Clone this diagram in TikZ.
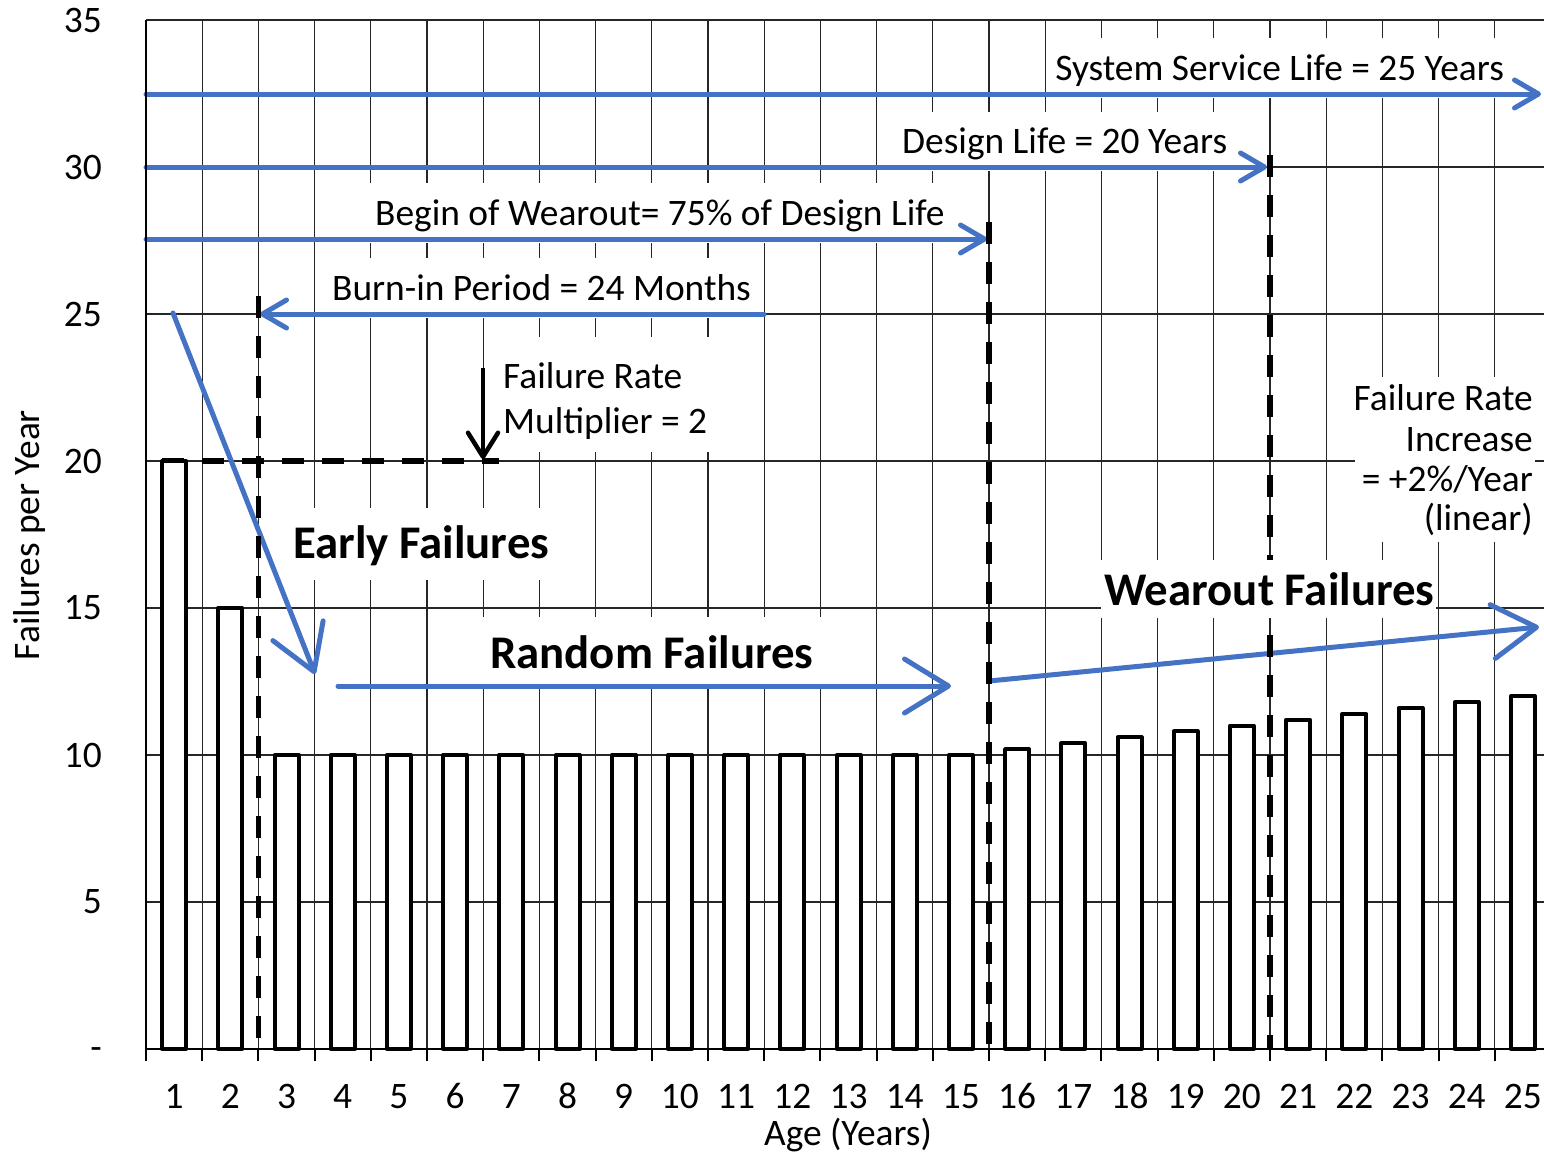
\documentclass[tikz,border=0pt]{standalone}
\usepackage{fontspec}
\setmainfont{Carlito}
\usetikzlibrary{arrows.meta}
\definecolor{arrowblue}{HTML}{4472C4}
\newcommand\regtext{\fontsize{37.4}{45}\selectfont}
\newcommand\boldtext{\fontsize{46.8}{56}\selectfont\bfseries}
\def\catw{56.2}
\begin{document}
\begin{tikzpicture}[x=1pt,y=-1pt,
  gridline/.style={line width=1.3pt, black!85},
  axisline/.style={line width=2.6pt, black},
  tickline/.style={line width=2pt, black},
  barbox/.style={draw=black, fill=white, line width=4pt, line join=round},
  guide/.style={draw=black, line width=5.5pt, dash pattern=on 22pt off 18pt},
  mask/.style={fill=white},
  bluearrow/.style={draw=arrowblue, line width=5pt, line cap=round,
    -{Straight Barb[round, length=24pt, width=28pt]}},
  bigarrow/.style={draw=arrowblue, line width=5pt, line cap=round,
    -{Straight Barb[round, length=44pt, width=54pt]}},
  blackarrow/.style={draw=black, line width=4.5pt,
    -{Straight Barb[round, length=24pt, width=30pt]}},
  lbl/.style={font=\regtext, inner sep=0pt},
  bigl/.style={font=\boldtext, inner sep=0pt},
  ticklbl/.style={font=\regtext, inner sep=0pt},
]
\useasboundingbox (0,0) rectangle (1544,1152);

% ---- grid ----
\foreach \k in {1,...,24}
  \draw[gridline] ({146+\k*\catw},20) -- ({146+\k*\catw},1049);
\foreach \v in {5,10,...,35}
  \draw[gridline] (146,{1049-\v*29.4}) -- (1544,{1049-\v*29.4});

% ---- white backgrounds behind the annotations ----
\fill[mask] (1046,38) rectangle (1514,98);
\fill[mask] (892,112) rectangle (1236,171);
\fill[mask] (365,183) rectangle (957,243);
\fill[mask] (322,258) rectangle (762,318);
\fill[mask] (494,337) rectangle (714,452);
\fill[mask] (1355,377) rectangle (1535,542);
\fill[mask] (284,508) rectangle (558,580);
\fill[mask] (481,617) rectangle (822,688);

% ---- annotation texts ----
\node[lbl, anchor=base east] (svcLbl) at (1504,80) {System Service Life = 25 Years};
\node[lbl, anchor=base west] (designLbl) at (902,153) {Design Life = 20 Years};
\node[lbl, anchor=base west] (wearBeginLbl) at (375,225) {Begin of Wearout= 75\% of Design Life};
\node[lbl, anchor=base west] (burnLbl) at (332,300) {Burn-in Period = 24 Months};
\node[lbl, anchor=base west] (multA) at (503,388) {Failure Rate};
\node[lbl, anchor=base west] (multB) at (503,433) {Multiplier = 2};
\node[lbl, anchor=base east] (incA) at (1533,410) {Failure Rate};
\node[lbl, anchor=base east] (incB) at (1533,451) {Increase};
\node[lbl, anchor=base east] (incC) at (1533,491) {= +2\%/Year};
\node[lbl, anchor=base east] (incD) at (1533,530) {(linear)};
\node[bigl, anchor=base west] (earlyLbl) at (293,558) {Early Failures};
\node[bigl, anchor=base west] (randomLbl) at (490,668) {Random Failures};

% ---- arrow end points ----
\coordinate (svcA) at (146,94);    \coordinate (svcB) at (1541,94);
\coordinate (desA) at (146,167);   \coordinate (desB) at (1267,167);
\coordinate (begA) at (146,239);   \coordinate (begB) at (987,239);
\coordinate (burnA) at (764,314);  \coordinate (burnB) at (260,314);
\coordinate (earlyA) at (173,313); \coordinate (earlyB) at (315,674);
\coordinate (randA) at (338,686);  \coordinate (randB) at (951,686);
\coordinate (wearA) at (989,681);  \coordinate (wearB) at (1539,627);
\coordinate (multTop) at (483,368); \coordinate (multTip) at (483,459);

% ---- blue period arrows ----
\draw[bluearrow] (svcA) -- (svcB);
\draw[bluearrow] (desA) -- (desB);
\draw[bluearrow] (begA) -- (begB);
\draw[bluearrow] (burnA) -- (burnB);
\draw[bigarrow] (earlyA) -- (earlyB);
\draw[bigarrow] (randA) -- (randB);
\draw[bigarrow] (wearA) -- (wearB);

% ---- dashed boundary lines ----
\draw[guide] ({146+2*\catw},296) -- ({146+2*\catw},1049);
\draw[guide] ({146+15*\catw},222) -- ({146+15*\catw},1049);
\draw[guide] ({146+20*\catw},155) -- ({146+20*\catw},1049);
\draw[guide] (162,461) -- (499,461);

% ---- multiplier arrow ----
\draw[blackarrow] (multTop) -- (multTip);

% ---- bars ----
\foreach \i/\v in {1/20,2/15,3/10,4/10,5/10,6/10,7/10,8/10,9/10,10/10,11/10,12/10,13/10,14/10,15/10,
                   16/10.2,17/10.4,18/10.6,19/10.8,20/11,21/11.2,22/11.4,23/11.6,24/11.8,25/12}
  \draw[barbox] ({146+(\i-0.5)*\catw-12},1049) rectangle ({146+(\i-0.5)*\catw+12},{1049-\v*29.4});

% ---- axes and ticks ----
\draw[axisline] (146,20) -- (146,1050);
\draw[axisline] (145,1049) -- (1544,1049);
\foreach \k in {0,...,24}
  \draw[tickline] ({146+\k*\catw},1049) -- ({146+\k*\catw},1061);

% ---- tick labels ----
\foreach \i in {1,...,25}
  \node[ticklbl, anchor=base] (xt\i) at ({146+(\i-0.5)*\catw},1108) {\i};
\foreach \v in {5,10,...,35}
  \node[ticklbl, anchor=east] (yt\v) at (102,{1049-\v*29.4}) {\v};
\node[ticklbl, anchor=base east] (yt0) at (102,1059) {-};

% ---- axis titles ----
\node[lbl, anchor=base] (xTitle) at (848,1145) {Age (Years)};
\node[lbl, rotate=90, anchor=center] (yTitle) at (30,535) {Failures per Year};

% ---- wearout label sits above the dashed line ----
\fill[mask] (1101,560) rectangle (1436,618);
\node[bigl, anchor=base west] (wearLbl) at (1104,605) {Wearout Failures};
\end{tikzpicture}
\end{document}
